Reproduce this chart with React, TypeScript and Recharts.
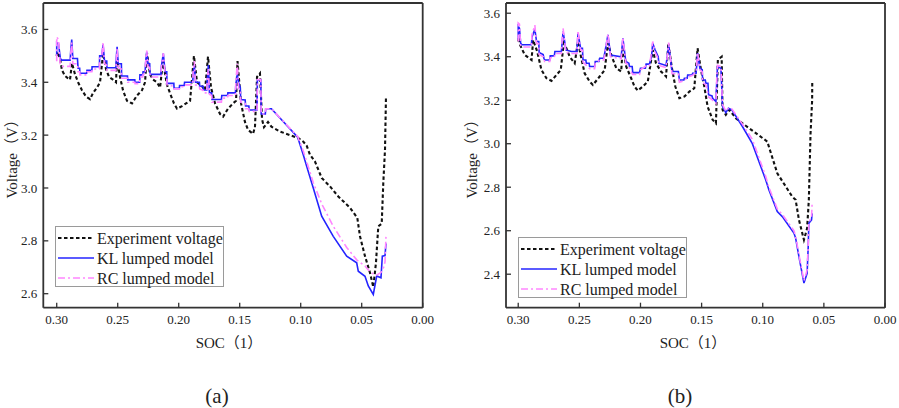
import React from 'react'
import { LineChart, Line, XAxis, YAxis, ReferenceLine, Label } from 'recharts'

type Pt = [number, number]

// [SOC, voltage]
const expA: Pt[] = [
  [0.3, 3.5], [0.2995, 3.515], [0.2973, 3.49], [0.2957, 3.446], [0.2932, 3.424], [0.2907, 3.415],
  [0.2891, 3.41], [0.2875, 3.472], [0.285, 3.43], [0.2825, 3.4], [0.2793, 3.37], [0.276, 3.346],
  [0.2727, 3.336], [0.2702, 3.36], [0.267, 3.38], [0.2645, 3.4], [0.262, 3.509], [0.2596, 3.45],
  [0.2571, 3.42], [0.2539, 3.41], [0.2514, 3.4], [0.2506, 3.49], [0.2481, 3.42], [0.2457, 3.37],
  [0.2424, 3.33], [0.2383, 3.32], [0.2342, 3.35], [0.2301, 3.37], [0.2276, 3.4], [0.226, 3.51],
  [0.2235, 3.43], [0.221, 3.41], [0.2178, 3.4], [0.2153, 3.38], [0.2129, 3.48], [0.2096, 3.39],
  [0.2072, 3.36], [0.2039, 3.32], [0.2014, 3.3], [0.1973, 3.31], [0.194, 3.32], [0.1907, 3.33],
  [0.1875, 3.5], [0.185, 3.4], [0.1809, 3.385], [0.1784, 3.37], [0.176, 3.497], [0.1735, 3.38],
  [0.1702, 3.32], [0.1661, 3.28], [0.1636, 3.27], [0.1596, 3.3], [0.1555, 3.32], [0.153, 3.33],
  [0.1518, 3.48], [0.1489, 3.32], [0.1457, 3.25], [0.1432, 3.22], [0.1391, 3.205], [0.1375, 3.23],
  [0.1358, 3.42], [0.1334, 3.434], [0.1317, 3.26], [0.1301, 3.23], [0.1268, 3.25], [0.124, 3.232],
  [0.1171, 3.214], [0.1088, 3.2], [0.1021, 3.189], [0.098, 3.176], [0.0951, 3.16], [0.0924, 3.126],
  [0.0883, 3.1], [0.0828, 3.038], [0.076, 3.006], [0.0692, 2.968], [0.0596, 2.925], [0.0536, 2.887],
  [0.0514, 2.817], [0.0473, 2.742], [0.0432, 2.679], [0.0405, 2.625], [0.0383, 2.717], [0.0364, 2.855],
  [0.0336, 2.865], [0.0323, 3.019], [0.0309, 3.145], [0.0301, 3.346],
]

const klA: Pt[] = [
  [0.3, 3.5], [0.3, 3.55], [0.2985, 3.545], [0.297, 3.49], [0.296, 3.484], [0.289, 3.484],
  [0.2885, 3.52], [0.2877, 3.562], [0.2868, 3.49], [0.283, 3.49], [0.2825, 3.453], [0.2812, 3.453],
  [0.281, 3.434], [0.2755, 3.434], [0.2752, 3.445], [0.2712, 3.445], [0.271, 3.459], [0.265, 3.459],
  [0.2648, 3.5], [0.263, 3.5], [0.262, 3.543], [0.2608, 3.48], [0.259, 3.48], [0.2588, 3.455],
  [0.2515, 3.455], [0.2512, 3.49], [0.2505, 3.534], [0.2496, 3.47], [0.247, 3.47], [0.2468, 3.424],
  [0.242, 3.424], [0.2418, 3.409], [0.236, 3.409], [0.2358, 3.4], [0.232, 3.4], [0.2318, 3.428],
  [0.2295, 3.428], [0.2292, 3.44], [0.2275, 3.44], [0.2272, 3.47], [0.2262, 3.515], [0.2252, 3.47],
  [0.2238, 3.47], [0.2235, 3.43], [0.2145, 3.43], [0.2142, 3.46], [0.2126, 3.509], [0.2112, 3.44],
  [0.2098, 3.44], [0.2096, 3.396], [0.204, 3.396], [0.2038, 3.377], [0.1995, 3.377], [0.1993, 3.388],
  [0.1955, 3.388], [0.1952, 3.4], [0.1885, 3.4], [0.1882, 3.43], [0.1872, 3.465], [0.1862, 3.4],
  [0.183, 3.4], [0.1828, 3.385], [0.18, 3.385], [0.1798, 3.371], [0.177, 3.371], [0.1767, 3.4],
  [0.1757, 3.465], [0.1748, 3.36], [0.173, 3.36], [0.1727, 3.335], [0.165, 3.335], [0.1647, 3.35],
  [0.16, 3.35], [0.1597, 3.36], [0.1535, 3.36], [0.1532, 3.39], [0.152, 3.43], [0.1508, 3.396],
  [0.1495, 3.38], [0.1492, 3.335], [0.1455, 3.333], [0.1452, 3.31], [0.1425, 3.31], [0.1422, 3.295],
  [0.1358, 3.295], [0.1355, 3.409], [0.1327, 3.409], [0.1324, 3.28], [0.129, 3.28], [0.1287, 3.3],
  [0.124, 3.3], [0.1025, 3.192], [0.0979, 3.126], [0.0951, 3.082], [0.0897, 3.0], [0.0828, 2.893],
  [0.0733, 2.817], [0.0623, 2.742], [0.0541, 2.717], [0.0528, 2.685], [0.0473, 2.666], [0.0446, 2.629],
  [0.0405, 2.597], [0.0377, 2.667], [0.0342, 2.66], [0.0331, 2.742], [0.0309, 2.744], [0.0301, 2.79],
]

const rcA: Pt[] = [
  [0.3, 3.48], [0.3, 3.572], [0.2985, 3.56], [0.2972, 3.47], [0.2955, 3.46], [0.289, 3.46],
  [0.2885, 3.51], [0.2877, 3.55], [0.2868, 3.47], [0.283, 3.47], [0.2825, 3.44], [0.2812, 3.44],
  [0.281, 3.428], [0.2755, 3.428], [0.2752, 3.44], [0.2712, 3.44], [0.271, 3.45], [0.265, 3.45],
  [0.2648, 3.49], [0.263, 3.5], [0.262, 3.55], [0.2608, 3.47], [0.259, 3.465], [0.2588, 3.445],
  [0.2515, 3.445], [0.2512, 3.48], [0.2505, 3.53], [0.2496, 3.455], [0.247, 3.45], [0.2468, 3.415],
  [0.242, 3.415], [0.2418, 3.4], [0.236, 3.4], [0.2358, 3.395], [0.232, 3.395], [0.2318, 3.42],
  [0.2295, 3.42], [0.2292, 3.43], [0.2275, 3.43], [0.2272, 3.47], [0.2262, 3.52], [0.2252, 3.46],
  [0.2238, 3.455], [0.2235, 3.42], [0.2145, 3.42], [0.2142, 3.46], [0.2126, 3.51], [0.2112, 3.43],
  [0.2098, 3.425], [0.2096, 3.39], [0.204, 3.385], [0.2038, 3.375], [0.1995, 3.375], [0.1993, 3.383],
  [0.1955, 3.383], [0.1952, 3.39], [0.1885, 3.39], [0.1882, 3.44], [0.1872, 3.48], [0.1862, 3.39],
  [0.183, 3.385], [0.1828, 3.375], [0.18, 3.37], [0.1798, 3.36], [0.177, 3.36], [0.1767, 3.41],
  [0.1757, 3.45], [0.1748, 3.355], [0.173, 3.35], [0.1727, 3.325], [0.165, 3.325], [0.1647, 3.34],
  [0.16, 3.34], [0.1597, 3.35], [0.1535, 3.35], [0.1532, 3.4], [0.152, 3.47], [0.1508, 3.37],
  [0.1495, 3.365], [0.1492, 3.325], [0.1455, 3.32], [0.1452, 3.3], [0.1425, 3.3], [0.1422, 3.29],
  [0.1358, 3.29], [0.1355, 3.41], [0.1327, 3.41], [0.1324, 3.28], [0.129, 3.28], [0.1287, 3.3],
  [0.124, 3.3], [0.1025, 3.195], [0.0979, 3.14], [0.0951, 3.1], [0.0897, 3.02], [0.0828, 2.94],
  [0.0733, 2.855], [0.0623, 2.775], [0.0541, 2.728], [0.0473, 2.705], [0.0446, 2.69], [0.0405, 2.675],
  [0.0377, 2.67], [0.0342, 2.68], [0.032, 2.7], [0.0309, 2.72], [0.0301, 2.815],
]

const expB: Pt[] = [
  [0.3, 3.47], [0.2995, 3.49], [0.2985, 3.454], [0.2946, 3.408], [0.2891, 3.385], [0.2878, 3.477],
  [0.2845, 3.424], [0.281, 3.339], [0.2769, 3.301], [0.2728, 3.289], [0.2688, 3.316], [0.2652, 3.339],
  [0.2628, 3.462], [0.2606, 3.439], [0.2579, 3.4], [0.2538, 3.37], [0.2511, 3.47], [0.2484, 3.393],
  [0.2457, 3.324], [0.2416, 3.286], [0.2389, 3.27], [0.2334, 3.309], [0.2293, 3.339], [0.2266, 3.462],
  [0.2239, 3.408], [0.2198, 3.347], [0.2158, 3.332], [0.2144, 3.447], [0.2117, 3.355], [0.2076, 3.301],
  [0.2049, 3.263], [0.2022, 3.244], [0.1981, 3.263], [0.194, 3.286], [0.19, 3.431], [0.1873, 3.37],
  [0.1832, 3.332], [0.1791, 3.309], [0.1772, 3.462], [0.1745, 3.355], [0.1715, 3.263], [0.1682, 3.209],
  [0.1641, 3.217], [0.16, 3.24], [0.156, 3.255], [0.1533, 3.439], [0.1505, 3.339], [0.1478, 3.263],
  [0.1451, 3.171], [0.141, 3.11], [0.1383, 3.094], [0.1367, 3.386], [0.1336, 3.4], [0.1329, 3.156],
  [0.1302, 3.133], [0.1274, 3.156], [0.122, 3.117], [0.1166, 3.094], [0.0963, 3.01], [0.0881, 2.864],
  [0.0759, 2.757], [0.0731, 2.742], [0.0704, 2.65], [0.0663, 2.558], [0.0637, 2.611], [0.0623, 2.742],
  [0.0609, 3.048], [0.0596, 3.2], [0.0595, 3.286],
]

const klB: Pt[] = [
  [0.3, 3.48], [0.3, 3.54], [0.299, 3.531], [0.298, 3.462], [0.297, 3.455], [0.2892, 3.455],
  [0.2888, 3.49], [0.2864, 3.526], [0.285, 3.47], [0.2832, 3.47], [0.2829, 3.419], [0.2796, 3.41],
  [0.279, 3.393], [0.2783, 3.385], [0.2742, 3.385], [0.2738, 3.404], [0.2705, 3.404], [0.27, 3.424],
  [0.2647, 3.424], [0.264, 3.47], [0.2633, 3.516], [0.261, 3.431], [0.2565, 3.424], [0.252, 3.424],
  [0.2511, 3.508], [0.249, 3.439], [0.2475, 3.439], [0.247, 3.385], [0.2447, 3.385], [0.2443, 3.37],
  [0.242, 3.37], [0.2416, 3.355], [0.2375, 3.355], [0.237, 3.378], [0.234, 3.378], [0.2334, 3.393],
  [0.23, 3.393], [0.229, 3.424], [0.2266, 3.5], [0.2245, 3.408], [0.2158, 3.4], [0.2144, 3.485],
  [0.212, 3.378], [0.2095, 3.37], [0.209, 3.355], [0.2068, 3.355], [0.2063, 3.327], [0.2008, 3.327],
  [0.2, 3.347], [0.196, 3.347], [0.1954, 3.366], [0.1927, 3.366], [0.191, 3.4], [0.19, 3.462],
  [0.188, 3.431], [0.1855, 3.4], [0.185, 3.37], [0.1791, 3.36], [0.1769, 3.454], [0.1745, 3.345],
  [0.1742, 3.332], [0.169, 3.332], [0.1682, 3.293], [0.1645, 3.293], [0.1641, 3.301], [0.1618, 3.301],
  [0.1614, 3.316], [0.1578, 3.316], [0.1573, 3.324], [0.1545, 3.324], [0.1533, 3.416], [0.1514, 3.347],
  [0.1495, 3.34], [0.1492, 3.293], [0.147, 3.293], [0.1465, 3.278], [0.1448, 3.278], [0.1443, 3.225],
  [0.1415, 3.22], [0.141, 3.209], [0.1383, 3.194], [0.1375, 3.3], [0.137, 3.355], [0.1342, 3.347],
  [0.1329, 3.171], [0.1302, 3.143], [0.128, 3.163], [0.1253, 3.156], [0.1166, 3.079], [0.1085, 3.0],
  [0.0976, 2.834], [0.095, 2.788], [0.0881, 2.688], [0.084, 2.665], [0.0745, 2.589], [0.0731, 2.566],
  [0.0704, 2.481], [0.0663, 2.359], [0.0637, 2.404], [0.0628, 2.527], [0.0623, 2.634], [0.0601, 2.65],
  [0.0596, 2.68],
]

const rcB: Pt[] = [
  [0.3, 3.47], [0.3, 3.555], [0.299, 3.55], [0.298, 3.45], [0.297, 3.445], [0.2892, 3.445],
  [0.2888, 3.5], [0.2864, 3.545], [0.285, 3.46], [0.2832, 3.46], [0.2829, 3.41], [0.2796, 3.4],
  [0.279, 3.385], [0.2783, 3.378], [0.2742, 3.378], [0.2738, 3.395], [0.2705, 3.395], [0.27, 3.415],
  [0.2647, 3.415], [0.264, 3.48], [0.2633, 3.53], [0.261, 3.42], [0.2565, 3.415], [0.252, 3.415],
  [0.2511, 3.52], [0.249, 3.43], [0.2475, 3.43], [0.247, 3.375], [0.2443, 3.36], [0.2416, 3.345],
  [0.2375, 3.345], [0.237, 3.37], [0.2334, 3.385], [0.23, 3.385], [0.229, 3.42], [0.2266, 3.505],
  [0.2245, 3.4], [0.2158, 3.39], [0.2144, 3.49], [0.212, 3.37], [0.2095, 3.36], [0.209, 3.345],
  [0.2063, 3.318], [0.2008, 3.318], [0.2, 3.34], [0.1954, 3.358], [0.1927, 3.358], [0.191, 3.42],
  [0.19, 3.47], [0.188, 3.42], [0.1855, 3.39], [0.185, 3.36], [0.1791, 3.35], [0.1769, 3.465],
  [0.1745, 3.335], [0.1742, 3.322], [0.169, 3.322], [0.1682, 3.283], [0.1641, 3.29], [0.1614, 3.306],
  [0.1573, 3.315], [0.1545, 3.33], [0.1533, 3.42], [0.1514, 3.34], [0.1495, 3.33], [0.1492, 3.283],
  [0.1465, 3.27], [0.1443, 3.215], [0.141, 3.2], [0.1383, 3.185], [0.1375, 3.32], [0.137, 3.36],
  [0.1342, 3.355], [0.1329, 3.18], [0.1302, 3.15], [0.128, 3.165], [0.1253, 3.16], [0.1166, 3.09],
  [0.1085, 3.02], [0.0976, 2.85], [0.095, 2.8], [0.0881, 2.7], [0.084, 2.675], [0.0745, 2.6],
  [0.0731, 2.575], [0.0704, 2.49], [0.0663, 2.37], [0.0637, 2.42], [0.0628, 2.54], [0.0623, 2.64],
  [0.0601, 2.66], [0.0596, 2.726],
]

const socTicks = [0, 0.05, 0.1, 0.15, 0.2, 0.25, 0.3]
const voltTicksA = [2.6, 2.8, 3.0, 3.2, 3.4, 3.6]
const voltTicksB = [2.4, 2.6, 2.8, 3.0, 3.2, 3.4, 3.6]
const seriesNames = ['Experiment voltage', 'KL lumped model', 'RC lumped model']

const FONT = '"Liberation Serif", "Times New Roman", "Noto Sans CJK SC", serif'
const AXIS = '#333'
const EXP = { stroke: '#111', width: 2.1, dash: '3.5 2.5' }
const KL = { stroke: '#2424ff', width: 1.6, dash: undefined as string | undefined }
const RC = { stroke: '#ff86ff', width: 1.6, dash: '7 3 2 3' }
const styles = [EXP, KL, RC]

const rows = (pts: Pt[]) => pts.map(([soc, v]) => ({ soc, v }))

type PanelProps = {
  left: number
  width: number
  margin: { top: number; right: number; bottom: number; left: number }
  yDomain: [number, number]
  yTicks: number[]
  xMax: number
  exp: Pt[]
  kl: Pt[]
  rc: Pt[]
  yLabelX: number
  xLabelX: number
}

function Panel(p: PanelProps) {
  const tick = { fontSize: 13, fill: '#222', fontFamily: FONT }
  const plotMid = p.margin.top + (408 - p.margin.top - p.margin.bottom - 30) / 2
  return (
    <div style={{ position: 'absolute', left: p.left, top: 0 }}>
      <LineChart width={p.width} height={408} margin={p.margin}>
        {/* ticks point inward: negative size, margin pushes labels back out */}
        <XAxis
          type="number"
          dataKey="soc"
          domain={[0, p.xMax]}
          reversed
          allowDataOverflow
          ticks={socTicks}
          interval={0}
          tickFormatter={(v: number) => v.toFixed(2)}
          tick={tick}
          tickSize={-5}
          tickMargin={12}
          height={30}
          axisLine={{ stroke: AXIS, strokeWidth: 1.8 }}
          tickLine={{ stroke: AXIS, strokeWidth: 1.3 }}
        >
          <Label
            content={() => (
              <text x={p.xLabelX} y={348} textAnchor="middle" fontFamily={FONT} fontSize={15} fill="#222">
                SOC（1）
              </text>
            )}
          />
        </XAxis>
        <YAxis
          type="number"
          domain={p.yDomain}
          allowDataOverflow
          ticks={p.yTicks}
          interval={0}
          tickFormatter={(v: number) => v.toFixed(1)}
          tick={tick}
          tickSize={-5}
          tickMargin={11}
          width={35}
          axisLine={{ stroke: AXIS, strokeWidth: 1.8 }}
          tickLine={{ stroke: AXIS, strokeWidth: 1.3 }}
        >
          <Label
            content={() => (
              <text
                x={p.yLabelX}
                y={plotMid}
                textAnchor="middle"
                dominantBaseline="central"
                transform={`rotate(-90 ${p.yLabelX} ${plotMid})`}
                fontFamily={FONT}
                fontSize={15}
                fill="#222"
              >
                Voltage（V）
              </text>
            )}
          />
        </YAxis>
        <ReferenceLine x={0} stroke={AXIS} strokeWidth={1.8} />
        <ReferenceLine y={p.yDomain[1]} stroke={AXIS} strokeWidth={1.8} />
        <Line data={rows(p.exp)} dataKey="v" type="linear" dot={false} stroke={EXP.stroke} strokeWidth={EXP.width} strokeDasharray={EXP.dash} isAnimationActive={false} />
        <Line data={rows(p.kl)} dataKey="v" type="linear" dot={false} stroke={KL.stroke} strokeWidth={KL.width} isAnimationActive={false} />
        <Line data={rows(p.rc)} dataKey="v" type="linear" dot={false} stroke={RC.stroke} strokeWidth={RC.width} strokeDasharray={RC.dash} isAnimationActive={false} />
      </LineChart>
    </div>
  )
}

function LegendBox({ left, top }: { left: number; top: number }) {
  return (
    <div style={{ position: 'absolute', left, top, width: 169, height: 61, border: '1px solid #9a9a9a', background: '#fff', boxSizing: 'border-box' }}>
      <svg width={169} height={61} style={{ position: 'absolute', left: 0, top: 0 }}>
        {seriesNames.map((name, i) => {
          const y = 11 + i * 20
          const s = styles[i]
          return (
            <g key={name}>
              <line x1={2} x2={38} y1={y} y2={y} stroke={s.stroke} strokeWidth={s.width} strokeDasharray={s.dash} />
              <text x={41} y={y} dominantBaseline="central" fontFamily={FONT} fontSize={16} fill="#222">
                {name}
              </text>
            </g>
          )
        })}
      </svg>
    </div>
  )
}

function Caption({ x, text }: { x: number; text: string }) {
  return (
    <div style={{ position: 'absolute', left: x - 30, top: 383, width: 60, textAlign: 'center', fontFamily: FONT, fontSize: 21, lineHeight: '26px', color: '#222' }}>
      {text}
    </div>
  )
}

export default function App() {
  return (
    <div style={{ position: 'absolute', left: 0, top: 0, width: 899, height: 408, background: '#fff', overflow: 'hidden' }}>
      <Panel
        left={0}
        width={450}
        margin={{ top: 3, right: 27.3, bottom: 70.3, left: 8.3 }}
        yDomain={[2.547, 3.7]}
        yTicks={voltTicksA}
        xMax={0.311}
        exp={expA}
        kl={klA}
        rc={rcA}
        yLabelX={12}
        xLabelX={229}
      />
      <Panel
        left={450}
        width={449}
        margin={{ top: 3, right: 14, bottom: 70.3, left: 21 }}
        yDomain={[2.246, 3.647]}
        yTicks={voltTicksB}
        xMax={0.31}
        exp={expB}
        kl={klB}
        rc={rcB}
        yLabelX={22}
        xLabelX={243}
      />
      <LegendBox left={55} top={226} />
      <LegendBox left={518} top={237} />
      <Caption x={217} text="(a)" />
      <Caption x={680} text="(b)" />
    </div>
  )
}
